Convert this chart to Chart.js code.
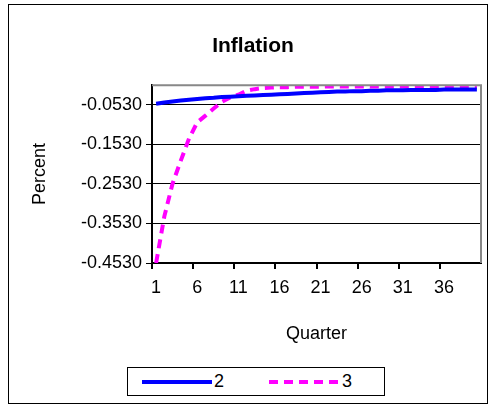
<!DOCTYPE html>
<html><head><meta charset="utf-8">
<script src="https://cdn.jsdelivr.net/npm/chart.js@4"></script>
<style>
body{margin:0;background:#fff;font-family:Arial,"Liberation Sans",sans-serif}
#wrap{position:absolute;left:8px;top:4px;width:478px;height:398px;border:1px solid #000}
#c{position:absolute;left:0;top:0}
#leg{position:absolute;left:127px;top:367px;width:256px;height:27px;border:1px solid #000;background:#fff;font-size:18px}
#leg span{position:absolute;top:3px}
</style></head><body>
<div id="wrap"></div>
<canvas id="c" width="489" height="404"></canvas>
<div id="leg">
<svg width="256" height="27" style="position:absolute;left:0;top:0">
<line x1="14" y1="14" x2="84" y2="14" stroke="#0000ff" stroke-width="4"/>
<line x1="141" y1="14" x2="211" y2="14" stroke="#ff00ff" stroke-width="4" stroke-dasharray="9,6"/>
</svg>
<span style="left:86px">2</span><span style="left:214px">3</span>
</div>
<script>
const quarters = Array.from({length: 40}, (_, i) => String(i + 1));
const series2 = [-0.050,-0.047,-0.044,-0.042,-0.040,-0.038,-0.036,-0.035,-0.033,-0.032,
  -0.031,-0.030,-0.029,-0.028,-0.027,-0.026,-0.025,-0.024,-0.023,-0.022,
  -0.021,-0.020,-0.019,-0.019,-0.018,-0.018,-0.017,-0.017,-0.016,-0.016,
  -0.016,-0.015,-0.015,-0.015,-0.015,-0.014,-0.014,-0.014,-0.014,-0.014];
const series3 = [-0.453,-0.335,-0.252,-0.194,-0.138,-0.097,-0.080,-0.062,-0.045,-0.034,
  -0.027,-0.017,-0.013,-0.010,-0.009,-0.008,-0.008,-0.007,-0.007,-0.007,
  -0.007,-0.006,-0.006,-0.006,-0.006,-0.006,-0.006,-0.006,-0.006,-0.006,
  -0.006,-0.006,-0.006,-0.006,-0.006,-0.006,-0.006,-0.006,-0.006,-0.006];
const yTicks = [-0.453,-0.353,-0.253,-0.153,-0.053];

new Chart(document.getElementById('c'), {
  type: 'line',
  data: {
    labels: quarters,
    datasets: [
      {label: '2', data: series2, borderColor: '#0000ff', borderWidth: 4, pointRadius: 0, tension: 0},
      {label: '3', data: series3, borderColor: '#ff00ff', borderWidth: 4, borderDash: [9, 6], pointRadius: 0, tension: 0}
    ]
  },
  options: {
    responsive: false,
    animation: false,
    layout: {padding: {top: 0, right: 8, bottom: 55, left: 25}},
    plugins: {
      legend: {display: false},
      tooltip: {enabled: false},
      title: {display: true, text: 'Inflation', color: '#000', font: {family: 'Arial', size: 21, weight: 'bold'}, padding: {top: 34, bottom: 26}}
    },
    scales: {
      x: {
        offset: true,
        afterFit: s => { s.height = 86; },
        grid: {offset: true, drawOnChartArea: false, tickLength: 6, color: '#000',
          lineWidth: ctx => (ctx.index % 5 === 0 ? 2 : 0)},
        border: {color: '#000', width: 2},
        ticks: {autoSkip: false, maxRotation: 0, color: '#000', font: {family: 'Arial', size: 18}, padding: 8,
          callback: (v, i) => (i % 5 === 0 ? quarters[i] : '')},
        title: {display: true, text: 'Quarter', color: '#000', font: {family: 'Arial', size: 18}, padding: {top: 14}}
      },
      y: {
        min: -0.453, max: -0.003,
        afterFit: s => { s.width = 127; },
        afterBuildTicks: s => { s.ticks = yTicks.map(v => ({value: v})); },
        grid: {color: '#000', lineWidth: 1, tickLength: 6},
        border: {color: '#000', width: 2},
        ticks: {color: '#000', font: {family: 'Arial', size: 18}, padding: 4, callback: v => v.toFixed(4)},
        title: {display: true, text: 'Percent', color: '#000', font: {family: 'Arial', size: 18}, padding: {bottom: 2}}
      }
    }
  },
  plugins: [{
    id: 'frame',
    afterDraw(chart) {
      const {ctx, chartArea: a} = chart;
      ctx.save();
      ctx.strokeStyle = '#888';
      ctx.lineWidth = 2;
      ctx.beginPath();
      ctx.moveTo(a.left, a.top); ctx.lineTo(a.right, a.top); ctx.lineTo(a.right, a.bottom);
      ctx.stroke();
      ctx.restore();
    }
  }]
});
</script>
</body></html>
